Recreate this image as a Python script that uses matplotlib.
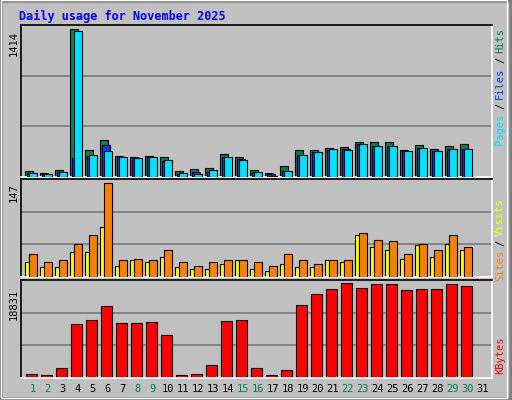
import matplotlib
matplotlib.use("Agg")
import matplotlib.pyplot as plt
from matplotlib.patches import Rectangle
import numpy as np

days = list(range(1, 32))
weekend = [1, 2, 8, 9, 15, 16, 22, 23, 29, 30]
hits = [61, 42, 70, 1414, 262, 358, 205, 195, 205, 195, 61, 80, 90, 224, 195, 70,
        42, 109, 262, 262, 282, 291, 339, 339, 339, 262, 310, 272, 301, 320]
files = [38, 32, 48, 186, 205, 310, 192, 186, 195, 154, 32, 51, 51, 195, 176, 48,
         32, 61, 214, 243, 262, 272, 320, 301, 301, 253, 282, 253, 272, 272]
pages = [38, 32, 48, 1395, 214, 253, 195, 186, 195, 166, 42, 32, 70, 195, 166, 48,
         13, 61, 214, 243, 272, 262, 320, 301, 301, 253, 282, 253, 272, 272]
visits = [23, 15, 15, 39, 40, 79, 18, 26, 23, 31, 15, 12, 13, 20, 26, 12,
          10, 21, 16, 15, 26, 23, 66, 47, 42, 29, 50, 32, 52, 42]
sites = [36, 23, 27, 52, 66, 147, 26, 29, 27, 42, 23, 18, 23, 26, 27, 23,
         18, 36, 27, 20, 27, 27, 69, 58, 57, 36, 52, 42, 66, 47]
kbytes = [893, 687, 1924, 10790, 11610, 14290, 10990, 10990, 11200, 8520, 687, 893,
          2540, 11400, 11610, 1924, 687, 1511, 14500, 16760, 17790, 18831, 18000,
          18620, 18620, 17590, 17790, 17790, 18620, 18410]

BG = "#c0c0c0"
fig = plt.figure(figsize=(5.12, 4.0), dpi=100, facecolor=BG)
W, H = 512, 400
fig.patches.append(Rectangle((0, 0), 1, 1, transform=fig.transFigure, fill=False,
                             edgecolor="#808080", lw=4))
fig.patches.append(Rectangle((0.001, 0.004), 0.99, 0.995, transform=fig.transFigure,
                             fill=False, edgecolor="white", lw=1))

fig.text(19 / W, 1 - 16 / H, "Daily usage for November 2025", color="#0000ff",
         family="DejaVu Sans Mono", weight="bold", fontsize=8.5, va="center")

left = 20.7 / W
width = 471 / W
XMAX = 471 / 15.0

def mkax(top, bot):
    ax = fig.add_axes([left, 1 - bot / H, width, (bot - top) / H])
    ax.set_facecolor(BG)
    ax.set_xlim(0, XMAX)
    ax.set_xticks([]); ax.set_yticks([])
    for s in ax.spines.values():
        s.set_color("black"); s.set_linewidth(1.2)
    ax.spines["bottom"].set_color("white")
    ax.spines["right"].set_color("white")
    return ax

def grid(ax, top):
    ax.set_ylim(0, top)
    for f in (1 / 3, 2 / 3):
        ax.axhline(top * f, color="#7a7a7a", lw=1.2, zorder=0)

x = np.array(days[:30]) - 1

ax1 = mkax(25, 177)
grid(ax1, 1414 / 0.972)
ax1.bar(x + 0.29, hits, width=0.51, align="edge", color="#00805c", edgecolor="black", lw=0.8, zorder=2)
ax1.bar(x + 0.42, files, width=0.51, align="edge", color="#0040ff", edgecolor="black", lw=0.8, zorder=3)
ax1.bar(x + 0.55, pages, width=0.51, align="edge", color="#00e0ff", edgecolor="black", lw=0.8, zorder=4)

ax2 = mkax(179, 277)
grid(ax2, 147 / 0.955)
ax2.bar(x + 0.31, visits, width=0.26, align="edge", color="#ffff00", edgecolor="black", lw=0.8, zorder=2)
ax2.bar(x + 0.57, sites, width=0.5, align="edge", color="#ff8000", edgecolor="black", lw=0.8, zorder=3)

ax3 = mkax(280, 378)
grid(ax3, 18831 / 0.965)
ax3.bar(x + 0.35, kbytes, width=0.71, align="edge", color="#ff0000", edgecolor="black", lw=0.8, zorder=2)

for d in days:
    ax3.text(d - 1 + 0.8, -0.11, str(d), transform=ax3.get_xaxis_transform(),
             ha="center", va="center", family="DejaVu Sans Mono", fontsize=7.5,
             color="#00805c" if d in weekend else "black")

mono = dict(family="DejaVu Sans Mono", fontsize=7.5, rotation=90)
fig.text(14 / W, 1 - 44 / H, "1414", ha="center", va="center", **mono)
fig.text(14 / W, 1 - 193 / H, "147", ha="center", va="center", **mono)
fig.text(14 / W, 1 - 304 / H, "18831", ha="center", va="center", **mono)

def stack(xp, ytop, parts):
    y = ytop
    for txt, col in parts:
        fig.text(xp, y, txt, color=col, ha="center", va="top", **mono)
        y -= (len(txt) * 6.3 + 4) / H

stack(500 / W, 1 - 28 / H, [("Hits", "#00805c"), ("/", "black"), ("Files", "#0040ff"),
                            ("/", "black"), ("Pages", "#00e0ff")])
stack(500 / W, 1 - 198 / H, [("Visits", "#ffff00"), ("/", "black"), ("Sites", "#ff8000")])
stack(500 / W, 1 - 336 / H, [("KBytes", "#ff0000")])

fig.savefig("out.png", dpi=100, facecolor=BG)
